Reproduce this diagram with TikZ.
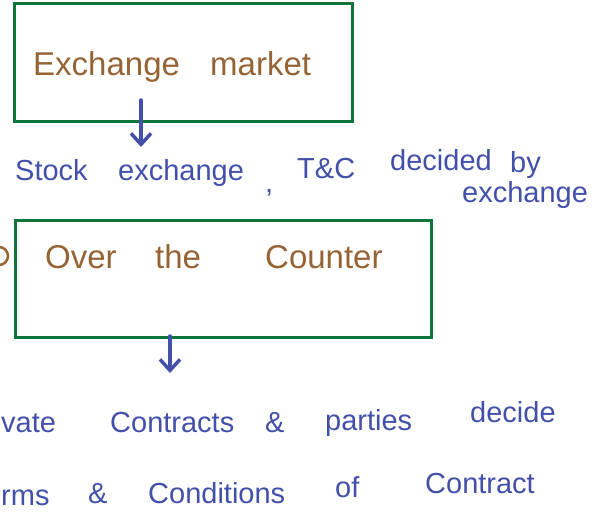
\documentclass[tikz,border=0pt]{standalone}
\usepackage{fontspec}
\setmainfont{Liberation Sans}
\usetikzlibrary{arrows.meta}
\definecolor{boxgreen}{RGB}{14,118,58}
\definecolor{inkbrown}{RGB}{150,100,52}
\definecolor{inkblue}{RGB}{66,80,170}
\begin{document}
\begin{tikzpicture}[x=1pt,y=-1pt,
  frame/.style={draw=boxgreen, line width=3pt, rectangle, inner sep=0pt},
  brownword/.style={text=inkbrown, font=\fontsize{33}{33}\selectfont, anchor=base west, inner sep=0pt},
  blueword/.style={text=inkblue, font=\fontsize{29}{29}\selectfont, anchor=base west, inner sep=0pt},
  pointer/.style={draw=inkblue, line width=3.5pt, line cap=round,
    -{Straight Barb[length=11pt,width=20pt,line width=3.5pt]}}]
\useasboundingbox (0,0) rectangle (608,519);
\clip (0,0) rectangle (608,519);

% boxes
\node[frame, minimum width=338pt, minimum height=117pt] (exbox) at (183,62.5) {};
\node[frame, minimum width=416pt, minimum height=117pt] (otcbox) at (223,278.5) {};

% box captions
\node[brownword] (wexchange) at (33,75) {Exchange};
\node[brownword] (wmarket) at (210,75) {market};
\node[brownword] (wover) at (45,268) {Over};
\node[brownword] (wthe) at (155,268) {the};
\node[brownword] (wcounter) at (265,268) {Counter};
\node[draw=inkbrown, line width=2.5pt, circle, minimum size=18pt, inner sep=0pt] (mark) at (-1,256) {};

% note under the exchange market
\node[blueword] (wstock) at (15,180) {Stock};
\node[blueword] (wexch) at (118,180) {exchange};
\node[blueword] (wcomma) at (265,192) {,};
\node[blueword] (wtc) at (297,178) {T\&C};
\node[blueword] (wdecided) at (390,170) {decided};
\node[blueword] (wby) at (510,172) {by};
\node[blueword] (wexch2) at (462,202) {exchange};

% note under the over-the-counter market
\node[blueword] (wprivate) at (1,432) {vate};
\node[blueword] (wcontracts) at (110,432) {Contracts};
\node[blueword] (wamp1) at (265,432) {\&};
\node[blueword] (wparties) at (325,430) {parties};
\node[blueword] (wdecide) at (470,422) {decide};
\node[blueword] (wterms) at (1,505) {rms};
\node[blueword] (wamp2) at (88,503) {\&};
\node[blueword] (wconditions) at (148,503) {Conditions};
\node[blueword] (wof) at (335,497) {of};
\node[blueword] (wcontract) at (425,493) {Contract};

% arrows
\coordinate (a1top) at (141,100);
\coordinate (a1tip) at (141,147);
\coordinate (a2top) at (170,336);
\coordinate (a2tip) at (170,373);
\draw[pointer] (a1top) -- (a1tip);
\draw[pointer] (a2top) -- (a2tip);
\end{tikzpicture}
\end{document}
